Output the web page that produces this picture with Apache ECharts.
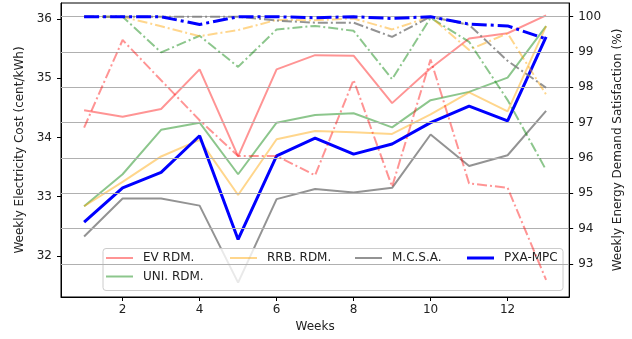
<!DOCTYPE html>
<html>
<head>
<meta charset="utf-8">
<script src="https://cdn.jsdelivr.net/npm/echarts@6/dist/echarts.min.js"></script>
<style>
html,body{margin:0;padding:0;background:#fff;}
#chart{width:632px;height:339px;}
</style>
</head>
<body>
<div id="chart"></div>
<script>
// ---- data ----
const weeks = [1,2,3,4,5,6,7,8,9,10,11,12,13];
const xTicks = [2,4,6,8,10,12];
const costTicks = [32,33,34,35,36];
const satTicks = [93,94,95,96,97,98,99,100];

// Weekly electricity cost (cent/kWh) - solid lines, left axis
const costEV   = [34.46,34.35,34.48,35.15,33.68,35.15,35.39,35.38,34.58,35.17,35.67,35.76,36.06];
const costUNI  = [32.84,33.38,34.13,34.25,33.38,34.25,34.38,34.41,34.17,34.63,34.77,35.01,35.88];
const costRRB  = [32.84,33.25,33.68,33.96,33.03,33.97,34.11,34.09,34.06,34.39,34.76,34.44,35.88];
const costMCSA = [32.33,32.97,32.97,32.85,31.55,32.96,33.13,33.07,33.15,34.05,33.52,33.70,34.45];
const costPXA  = [32.57,33.15,33.41,34.03,32.28,33.69,33.99,33.72,33.89,34.25,34.53,34.28,35.70];

// Weekly energy demand satisfaction (%) - dash-dot lines, right axis
const satEV   = [96.86,99.34,98.20,97.07,96.06,96.06,95.51,98.21,95.19,98.79,95.28,95.16,92.55];
const satUNI  = [100,100,98.99,99.46,98.58,99.64,99.74,99.60,98.23,99.97,99.29,97.64,95.66];
const satRRB  = [100,100,99.73,99.45,99.62,99.91,99.90,99.95,99.64,100,99.06,99.53,97.80];
const satMCSA = [100,100,100,100,100,99.89,99.83,99.83,99.43,100,99.77,98.75,97.99];
const satPXA  = [100,100,100,99.78,100,100,99.97,100,99.95,100,99.79,99.74,99.37];

const names = ['EV RDM.','UNI. RDM.','RRB. RDM.','M.C.S.A.','PXA-MPC'];

// ---- styling ----
const colors = {
  'EV RDM.':'rgba(255,0,0,0.42)',
  'UNI. RDM.':'rgba(0,128,0,0.45)',
  'RRB. RDM.':'rgba(255,165,0,0.45)',
  'M.C.S.A.':'rgba(128,128,128,0.85)',
  'PXA-MPC':'#0000ff'
};
const FONT = 'DejaVu Sans';
const pair = arr => weeks.map((w,i)=>[w,arr[i]]);

const costs = {'EV RDM.':costEV,'UNI. RDM.':costUNI,'RRB. RDM.':costRRB,'M.C.S.A.':costMCSA,'PXA-MPC':costPXA};
const sats  = {'EV RDM.':satEV,'UNI. RDM.':satUNI,'RRB. RDM.':satRRB,'M.C.S.A.':satMCSA,'PXA-MPC':satPXA};

const series = [];
names.forEach(n=>{
  const w = n==='PXA-MPC'?3:2;
  series.push({
    name:n, type:'line', xAxisIndex:0, yAxisIndex:0, data:pair(costs[n]),
    showSymbol:false, symbol:'none', color:colors[n], z:2,
    lineStyle:{color:colors[n], width:w}
  });
});
names.forEach(n=>{
  const w = n==='PXA-MPC'?3:2;
  series.push({
    name:n+' sat', type:'line', xAxisIndex:0, yAxisIndex:1, data:pair(sats[n]),
    showSymbol:false, symbol:'none', color:colors[n], z:6,
    lineStyle:{color:colors[n], width:w, type: n==='PXA-MPC'?[15,4,3,4]:[10,3,2,3]}
  });
});

const legendPos = {
  'EV RDM.':[106,252], 'UNI. RDM.':[106,270.5], 'RRB. RDM.':[230,252],
  'M.C.S.A.':[355,252], 'PXA-MPC':[467,252]
};
const legends = names.map(n=>({
  data:[{name:n, icon:'rect'}],
  left:legendPos[n][0], top:legendPos[n][1],
  orient:'horizontal', padding:0,
  itemWidth:27, itemHeight: n==='PXA-MPC'?3:2,
  selectedMode:false, z:4,
  textStyle:{fontFamily:FONT, fontSize:12, color:'#222', padding:[0,0,0,5]}
}));

const axisLineStyle = {lineStyle:{color:'#000', width:1}};
const option = {
  animation:false,
  backgroundColor:'#fff',
  grid:{left:61, top:3, width:509, height:294, show:true, borderColor:'#000', borderWidth:1, backgroundColor:'transparent', containLabel:false},
  legend:legends,
  graphic:[{
    type:'rect', z:3, silent:true,
    shape:{x:103, y:248.5, width:460, height:42, r:3},
    style:{fill:'rgba(255,255,255,0.8)', stroke:'#cccccc', lineWidth:1}
  }],
  xAxis:[{
    type:'value', min:0.4, max:13.6, minInterval:2, maxInterval:2,
    name:'Weeks', nameLocation:'middle', nameGap:24,
    nameTextStyle:{fontFamily:FONT, fontSize:12, color:'#222'},
    axisLine:{show:true, onZero:false, lineStyle:{color:'#000'}},
    axisTick:{show:true, length:4, customValues:xTicks, lineStyle:{color:'#000'}},
    axisLabel:{customValues:xTicks, margin:7, fontFamily:FONT, fontSize:12, color:'#222'},
    splitLine:{show:false}
  }],
  yAxis:[{
    type:'value', position:'left', min:31.308, max:36.27, minInterval:1, maxInterval:1,
    name:'Weekly Electricity Cost (cent/kWh)', nameLocation:'middle', nameGap:30, nameRotate:90,
    nameTextStyle:{fontFamily:FONT, fontSize:12, color:'#222'},
    axisLine:{show:true, onZero:false, lineStyle:{color:'#000'}},
    axisTick:{show:true, length:4, customValues:costTicks, lineStyle:{color:'#000'}},
    axisLabel:{customValues:costTicks, margin:9, fontFamily:FONT, fontSize:12, color:'#222'},
    splitLine:{show:false}
  },{
    type:'value', position:'right', min:92.066, max:100.388, minInterval:1, maxInterval:1,
    z:5,
    name:'Weekly Energy Demand Satisfaction (%)', nameLocation:'middle', nameGap:36, nameRotate:90,
    nameTextStyle:{fontFamily:FONT, fontSize:12, color:'#222'},
    axisLine:{show:true, onZero:false, lineStyle:{color:'#000'}},
    axisTick:{show:true, length:4, customValues:satTicks, lineStyle:{color:'#000'}},
    axisLabel:{customValues:satTicks, margin:9, fontFamily:FONT, fontSize:12, color:'#222'},
    splitLine:{show:true, lineStyle:{color:'#b0b0b0', width:1}}
  }],
  series:series
};

const chart = echarts.init(document.getElementById('chart'), null, {renderer:'canvas'});
chart.setOption(option);
</script>
</body>
</html>
